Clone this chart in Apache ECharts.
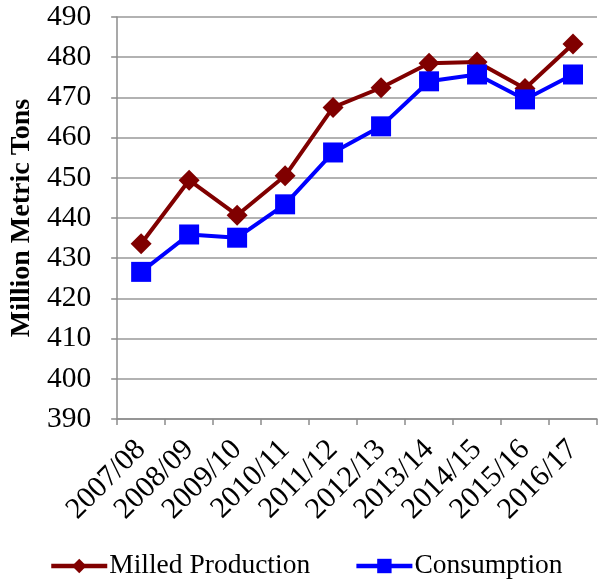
<!DOCTYPE html>
<html>
<head>
<meta charset="utf-8">
<script src="https://cdn.jsdelivr.net/npm/echarts@6/dist/echarts.min.js"></script>
<style>html,body{margin:0;padding:0;background:#fff}#c{width:603px;height:580px}</style>
</head>
<body>
<div id="c"></div>
<script>
var categories = ['2007/08','2008/09','2009/10','2010/11','2011/12','2012/13','2013/14','2014/15','2015/16','2016/17'];
var milledProduction = [433.6, 449.4, 440.7, 450.5, 467.5, 472.4, 478.5, 478.8, 472.2, 483.3];
var consumption = [426.6, 435.9, 435.1, 443.4, 456.3, 462.8, 474.0, 475.7, 469.5, 475.7];
var yTicks = {min: 390, max: 490, interval: 10};

var font = '"Liberation Serif", "Times New Roman", serif';
var chart = echarts.init(document.getElementById('c'));
chart.setOption({
  animation: false,
  textStyle: {fontFamily: font},
  grid: {left: 115, right: 6, top: 17, bottom: 161, containLabel: false},
  legend: {
    top: 547,
    left: 44,
    itemWidth: 56,
    itemHeight: 18,
    itemGap: 44,
    lineStyle: {width: 4.5},
    textStyle: {fontFamily: font, fontSize: 27.5, color: '#000', padding: [0, 0, 0, -3]},
    data: ['Milled Production', 'Consumption']
  },
  xAxis: {
    type: 'category',
    data: categories,
    boundaryGap: true,
    axisLine: {lineStyle: {color: '#8c8c8c', width: 1.5}},
    axisTick: {show: true, length: 6, lineStyle: {color: '#8c8c8c', width: 1.5}},
    axisLabel: {rotate: 45, fontSize: 30, color: '#000', margin: 26, fontFamily: font, interval: 0}
  },
  yAxis: {
    type: 'value',
    min: yTicks.min, max: yTicks.max, interval: yTicks.interval,
    name: 'Million Metric Tons',
    nameLocation: 'middle',
    nameGap: 78,
    nameTextStyle: {fontFamily: font, fontSize: 28, fontWeight: 'bold', color: '#000'},
    axisLine: {show: true, lineStyle: {color: '#8c8c8c', width: 1.5}},
    axisTick: {show: true, length: 6, lineStyle: {color: '#8c8c8c', width: 1.5}},
    axisLabel: {fontSize: 29.5, color: '#000', margin: 26, fontFamily: font},
    splitLine: {lineStyle: {color: '#999', width: 1.5}}
  },
  series: [
    {
      name: 'Milled Production',
      type: 'line',
      data: milledProduction,
      symbol: 'diamond',
      symbolSize: 21,
      lineStyle: {color: '#800000', width: 4},
      itemStyle: {color: '#800000'}
    },
    {
      name: 'Consumption',
      type: 'line',
      data: consumption,
      symbol: 'rect',
      symbolSize: 20,
      lineStyle: {color: '#0000ff', width: 4},
      itemStyle: {color: '#0000ff'}
    }
  ]
});
</script>
</body>
</html>
